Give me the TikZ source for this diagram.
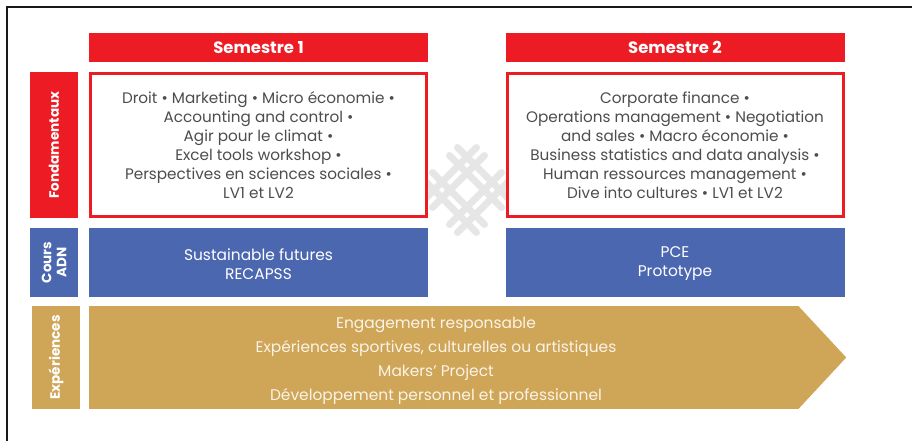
\documentclass[tikz,border=0pt]{standalone}
\usepackage{fontspec}
\setmainfont{Poppins}
\definecolor{sred}{HTML}{ED1C24}
\definecolor{sblue}{HTML}{4A67AF}
\definecolor{sgold}{HTML}{CFA558}
\definecolor{stext}{HTML}{4D4D4D}
\definecolor{swm}{HTML}{E6E6E6}
\definecolor{scream}{HTML}{FBF4E6}
\begin{document}
\begin{tikzpicture}[x=1bp,y=-1bp,
  hdr/.style={fill=sred, text=white, font=\bfseries\fontsize{16.5}{18}\selectfont,
    minimum width=339bp, minimum height=29bp, inner sep=0pt},
  redbox/.style={draw=sred, line width=3bp, fill=white, minimum width=336bp,
    minimum height=143bp, inner sep=0pt, align=center, text=stext,
    font=\fontsize{15.3}{19}\selectfont},
  sidelbl/.style={rotate=90, text=white, font=\bfseries\fontsize{13.6}{15}\selectfont,
    inner sep=0pt, align=center, minimum height=48bp},
  bluebox/.style={fill=sblue, minimum width=339bp, minimum height=69bp, inner sep=0pt},
  bluetxt/.style={align=center, text=white, font=\fontsize{15.5}{19}\selectfont, inner sep=0pt},
  goldbox/.style={fill=sgold, minimum width=709bp, minimum height=103bp, inner sep=0pt},
  goldtxt/.style={align=center, text=scream, font=\fontsize{15.5}{24}\selectfont, inner sep=0pt},
  wm/.style={draw=swm, line width=7bp, line cap=round}
]
\useasboundingbox (0,0) rectangle (912,441);
\fill[white] (0,0) rectangle (912,441);
% frame
\draw[line width=2.2bp, color=black!90] (913,7) -- (7,7) -- (7,442);
% watermark lattice
\begin{scope}[shift={(467,190)}]
  \def\L{52}
  \foreach \c in {-33,-17,17,33}{
    \draw[wm] ({(\c-\L)/2},{(-\L-\c)/2}) -- ({(\c+\L)/2},{(\L-\c)/2});
    \draw[wm] ({(\c-\L)/2},{(\c+\L)/2}) -- ({(\c+\L)/2},{(\c-\L)/2});
  }
\end{scope}
% headers
\node[hdr] (h1) at (258.5,47.5) {Semestre 1};
\node[hdr] (h2) at (675,47.5) {Semestre 2};
% side labels
\node[sidelbl, fill=sred, minimum width=146bp] (lf) at (54,145) {Fondamentaux};
\node[sidelbl, fill=sblue, minimum width=69bp] (lc) at (54,262.5) {Cours\\ADN};
\node[sidelbl, fill=sgold, minimum width=103bp] (le) at (56,357.5) {Expériences};
% red boxes
\node[redbox] (f1) at (258.5,145) {Droit • Marketing • Micro économie •\\Accounting and control •\\Agir pour le climat •\\Excel tools workshop •\\Perspectives en sciences sociales •\\LV1 et LV2};
\node[redbox] (f2) at (675,145) {Corporate finance •\\Operations management • Negotiation\\and sales • Macro économie •\\Business statistics and data analysis •\\Human ressources management •\\Dive into cultures • LV1 et LV2};
% blue boxes
\node[bluebox] (c1) at (258.5,262.5) {};
\node[bluebox] (c2) at (675,262.5) {};
\node[bluetxt] (c1t) at ([yshift=-1.5bp]c1.center) {Sustainable futures\\RECAPSS};
\node[bluetxt] (c2t) at ([yshift=-1.5bp]c2.center) {PCE\\Prototype};
% gold arrow
\node[goldbox] (g) at (443.5,357.5) {};
\fill[sgold] (g.north east) -- ([xshift=48bp]g.east) -- (g.south east) -- cycle;
\node[goldtxt] (gt) at (436,360.5) {Engagement responsable\\Expériences sportives, culturelles ou artistiques\\Makers’ Project\\Développement personnel et professionnel};
\end{tikzpicture}
\end{document}
